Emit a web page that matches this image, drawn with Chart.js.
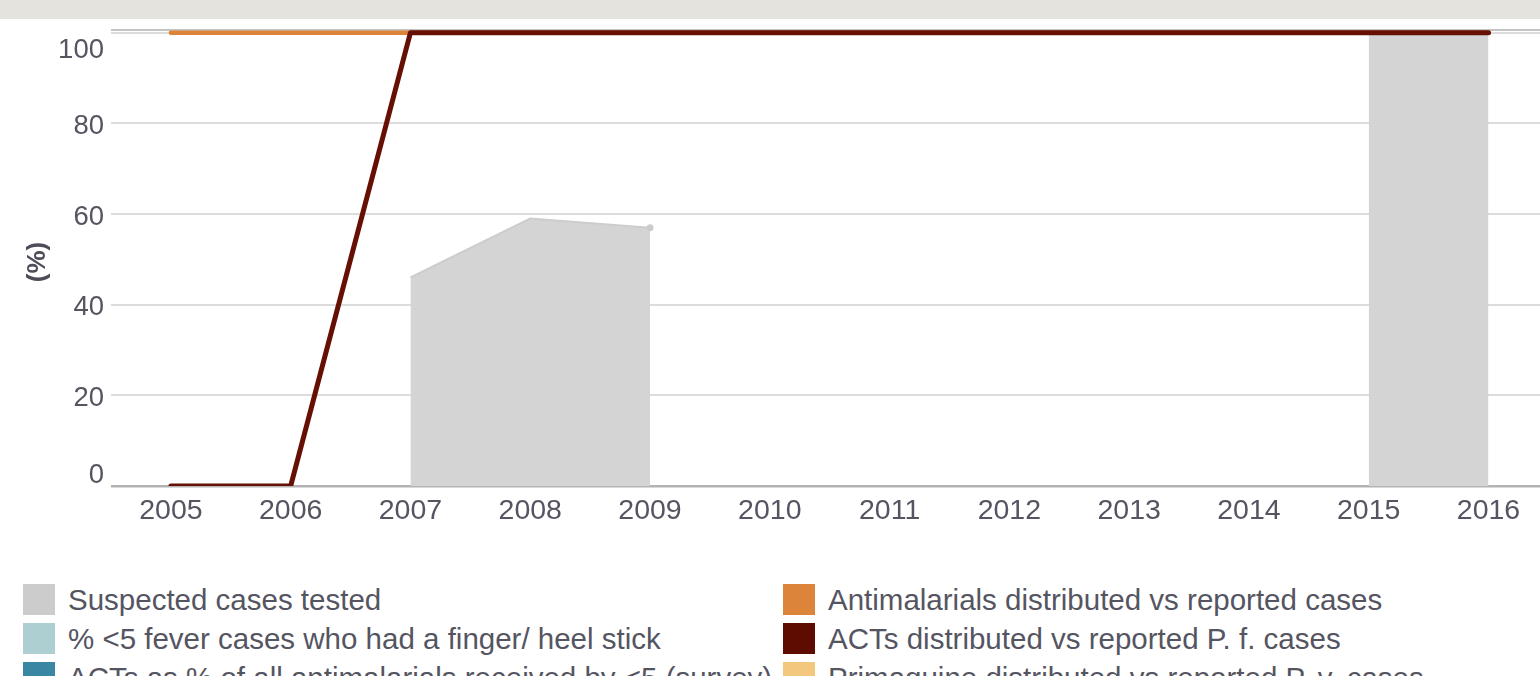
<!DOCTYPE html>
<html>
<head>
<meta charset="utf-8">
<script src="https://cdn.jsdelivr.net/npm/chart.js@4/dist/chart.umd.min.js"></script>
<style>
  body { margin: 0; width: 1540px; height: 676px; overflow: hidden; background: #fff; font-family: "Liberation Sans", Arial, sans-serif; }
  #band { position: absolute; left: 0; top: 0; width: 1540px; height: 19px; background: #e4e3de; }
  #wrap { position: absolute; left: 0; top: 0; width: 1540px; height: 540px; }
  #legend { position: absolute; left: 0; top: 580px; width: 1540px; }
  .item { position: absolute; height: 39px; display: flex; align-items: center; color: #555562; font-size: 29.5px; white-space: nowrap; }
  .box { width: 32px; height: 31px; margin-right: 13px; }
</style>
</head>
<body>
<div id="band"></div>
<div id="wrap"><canvas id="chart"></canvas></div>
<div id="legend"></div>
<script>
let years = [2005, 2006, 2007, 2008, 2009, 2010, 2011, 2012, 2013, 2014, 2015, 2016];
let suspected_tested = [null, null, 46, 59, 57, null, null, null, null, null, 100, 100];
let fever_finger_stick = [null, null, null, null, null, null, null, null, null, null, null, null];
let acts_survey = [null, null, null, null, null, null, null, null, null, null, null, null];
let antimalarials_vs_cases = [100, 100, 100, 100, 100, 100, 100, 100, 100, 100, 100, 100];
let acts_vs_pf = [0, 0, 100, 100, 100, 100, 100, 100, 100, 100, 100, 100];
let primaquine_vs_pv = [null, null, null, null, null, null, null, null, null, null, null, null];
let y_ticks = [0, 20, 40, 60, 80, 100];

let series_names = [
    "Suspected cases tested",
    "% <5 fever cases who had a finger/ heel stick",
    "ACTs as % of all antimalarials received by <5 (survey)",
    "Antimalarials distributed vs reported cases",
    "ACTs distributed vs reported P. f. cases",
    "Primaquine distributed vs reported P. v. cases"
];
let series_colors = ["#cccccc", "#aecfd1", "#3a87a3", "#dc8439", "#5e0c02", "#f3c77e"];

function points(values){
    return years.map((y, i) => ({x: y, y: values[i]}));
}

let textColor = "#555562";
let font = '"Liberation Sans", Arial, sans-serif';

// y labels are kept inside the plot area, like the original
const yLabels = {
    id: 'yLabels',
    afterDraw(chart){
        let ctx = chart.ctx;
        let area = chart.chartArea;
        let ys = chart.scales.y;
        ctx.save();
        ctx.fillStyle = textColor;
        ctx.font = '27.5px ' + font;
        ctx.textAlign = 'right';
        ctx.textBaseline = 'middle';
        for (const v of y_ticks) {
            let py = ys.getPixelForValue(v) + 3;
            py = Math.min(Math.max(py, area.top + 20), area.bottom - 11);
            ctx.fillText(String(v), 104, py);
        }
        ctx.translate(38, 262);
        ctx.rotate(-Math.PI / 2);
        ctx.textAlign = 'center';
        ctx.font = 'bold 26px ' + font;
        ctx.fillStyle = '#4d4d5a';
        ctx.fillText('(%)', 0, 0);
        ctx.restore();
    }
};

new Chart('chart', {
    type: 'line',
    data: {
        datasets: [
            {
                label: series_names[0],
                data: points(suspected_tested),
                borderColor: '#cdcdcd',
                backgroundColor: '#d4d4d4',
                borderWidth: 2,
                fill: 'origin',
                pointRadius: suspected_tested.map((v, i) => i == 4 ? 3.5 : 0),
                pointBackgroundColor: '#cccccc',
                pointBorderWidth: 0,
                order: 10
            },
            { label: series_names[1], data: points(fever_finger_stick), borderColor: series_colors[1], pointRadius: 0, order: 9 },
            { label: series_names[2], data: points(acts_survey), borderColor: series_colors[2], pointRadius: 0, order: 8 },
            {
                label: series_names[3],
                data: points(antimalarials_vs_cases),
                borderColor: series_colors[3],
                borderWidth: 4.5,
                borderCapStyle: 'round',
                pointRadius: 0,
                order: 5
            },
            {
                label: series_names[4],
                data: points(acts_vs_pf),
                borderColor: '#661005',
                borderWidth: 5,
                borderCapStyle: 'round',
                borderJoinStyle: 'round',
                pointRadius: 0,
                order: 1
            },
            { label: series_names[5], data: points(primaquine_vs_pv), borderColor: series_colors[5], pointRadius: 0, order: 7 }
        ]
    },
    options: {
        responsive: true,
        maintainAspectRatio: false,
        animation: false,
        layout: { padding: { top: 30, bottom: 14, left: 0, right: 0 } },
        plugins: {
            legend: { display: false },
            tooltip: { enabled: false }
        },
        scales: {
            x: {
                type: 'linear',
                min: 2004.5,
                max: 2016.43,
                afterBuildTicks: scale => { scale.ticks = years.map(v => ({value: v})); },
                afterFit: scale => { scale.height = 40; },
                grid: { display: false },
                border: { display: false },
                ticks: {
                    color: textColor,
                    font: { size: 28.5, family: font },
                    padding: 0,
                    maxRotation: 0,
                    callback: v => String(v)
                }
            },
            y: {
                min: 0,
                max: 100.6,
                afterBuildTicks: scale => { scale.ticks = y_ticks.concat([100.6]).map(v => ({value: v})); },
                afterFit: scale => { scale.width = 111; },
                ticks: { display: false },
                border: { display: false },
                grid: {
                    drawTicks: false,
                    color: c => c.tick.value == 0 ? '#b3b3b3' : (c.tick.value > 100 ? '#c4c4c4' : '#dcdcdc'),
                    lineWidth: c => c.tick.value == 0 ? 2.5 : 2
                }
            }
        }
    },
    plugins: [yLabels]
});

// legend in two columns, like the original
let legend = document.getElementById('legend');
series_names.forEach((name, i) => {
    let item = document.createElement('div');
    item.className = 'item';
    item.style.left = (i < 3 ? 23 : 783) + 'px';
    item.style.top = ((i % 3) * 39) + 'px';
    let box = document.createElement('div');
    box.className = 'box';
    box.style.background = series_colors[i];
    let txt = document.createElement('span');
    txt.textContent = name;
    item.appendChild(box);
    item.appendChild(txt);
    legend.appendChild(item);
});
</script>
</body>
</html>
